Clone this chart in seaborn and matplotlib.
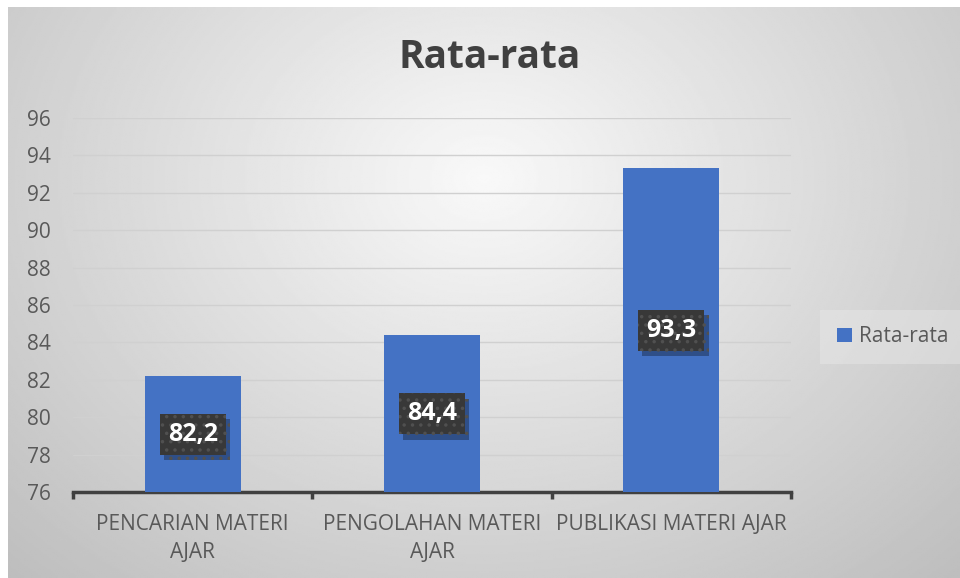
import matplotlib
matplotlib.use("Agg")
import matplotlib.pyplot as plt
import matplotlib.patheffects as pe
import seaborn as sb
import numpy as np
import pandas as pd

# data
categories = ["PENCARIAN MATERI\nAJAR", "PENGOLAHAN MATERI\nAJAR", "PUBLIKASI MATERI AJAR"]
values = [82.2, 84.4, 93.3]
series_name = "Rata-rata"
y_ticks = list(range(76, 97, 2))

bar_color = "#4472C4"
text_color = "#595959"

sb.set_style("white")
plt.rcParams['font.family'] = ['Open Sans', 'DejaVu Sans']
plt.rcParams['hatch.linewidth'] = 1.3

figure = plt.figure(figsize=(9.6, 5.78), dpi=100)
figure.patch.set_facecolor("white")

# gradient background of the chart area
bg = figure.add_axes([8 / 960, 0, 952 / 960, 571 / 578], zorder=0)
yy, xx = np.mgrid[0:1:300j, 0:1:500j]
dist = np.sqrt(((xx - 0.5) * 1.0) ** 2 + ((yy - 0.3) * 0.75) ** 2)
shade = 0.975 - 0.32 * dist
bg.imshow(shade, cmap="gray", vmin=0, vmax=1, aspect="auto", extent=[0, 1, 1, 0])
bg.set_axis_off()

axis = figure.add_axes([73 / 960, 86 / 578, 718 / 960, 374 / 578], zorder=1)
axis.patch.set_alpha(0)

df = pd.DataFrame({"category": categories, "value": values})
sb.barplot(data=df, x="category", y="value", color=bar_color, width=0.4,
           saturation=1, ax=axis, label=series_name, zorder=3, linewidth=0, edgecolor="none")

axis.set_ylim(76, 96)
axis.set_xlim(-0.5, len(categories) - 0.5)
axis.set_yticks(y_ticks)
axis.yaxis.grid(True, color="#d0d0d0", linewidth=1, zorder=0)
axis.set_axisbelow(True)
axis.tick_params(axis="y", length=0, pad=16, labelsize=15, labelcolor=text_color)
axis.tick_params(axis="x", which="major", length=0, pad=16, labelsize=15, labelcolor=text_color)
axis.set_xticks(np.arange(-0.5, len(categories), 1.0), minor=True)
axis.tick_params(axis="x", which="minor", bottom=True, length=5, width=2.5,
                 color="#404040", direction="out")
for side in ["left", "right", "top"]:
    axis.spines[side].set_visible(False)
axis.spines["bottom"].set_color("#404040")
axis.spines["bottom"].set_linewidth(2.5)
axis.set_xlabel("")
axis.set_ylabel("")
for lbl in axis.get_xticklabels():
    lbl.set_multialignment("center")
    lbl.set_linespacing(1.4)

# data labels in the middle of each bar
for i, v in enumerate(values):
    mid = (76 + v) / 2
    txt = f"{v:.1f}".replace(".", ",")
    t = axis.text(i, mid, txt, ha="center", va="center", fontsize=18, fontweight="bold",
                  color="white", zorder=5,
                  bbox=dict(boxstyle="square,pad=0.32", facecolor="#383838", edgecolor="#505050",
                            hatch="..", linewidth=0))
    t.get_bbox_patch().set_path_effects([
        pe.SimplePatchShadow(offset=(3, -4), shadow_rgbFace="black", alpha=0.3),
        pe.Normal()])

figure.text(490 / 960, 1 - 58 / 578, "Rata-rata", ha="center", va="center",
            fontsize=28, fontweight="bold", color="#404040")

leg = axis.legend(loc="center left", bbox_to_anchor=(1.035, 0.415), frameon=True,
                  fontsize=15, handlelength=0.7, handleheight=0.7, handletextpad=0.35,
                  borderpad=0.5)
leg.get_frame().set_facecolor("#ececec")
leg.get_frame().set_alpha(0.4)
leg.get_frame().set_linewidth(0)
leg.get_frame().set_boxstyle("square")
for t in leg.get_texts():
    t.set_color(text_color)

plt.savefig("out.png", dpi=100)
